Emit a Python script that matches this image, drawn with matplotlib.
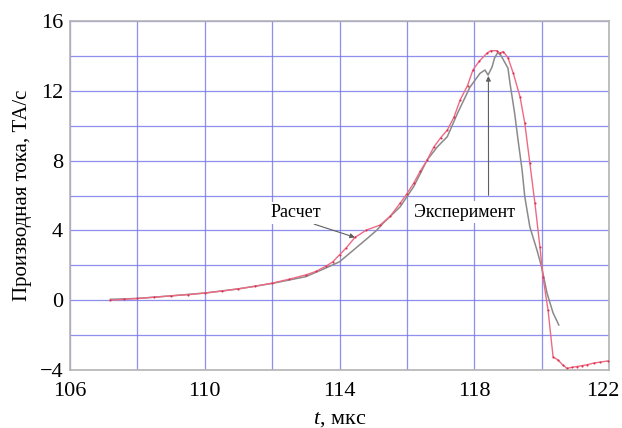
import matplotlib
matplotlib.use("Agg")
import matplotlib.pyplot as plt
from matplotlib.ticker import MultipleLocator
from matplotlib.transforms import ScaledTranslation

# Calculation (red, dotted markers)
calc_t = [107.2, 107.6, 108.0, 108.5, 109.0, 109.5, 110.0, 110.5, 111.0, 111.5, 112.0,
          112.5, 113.0, 113.3, 113.6, 113.8, 114.0, 114.2, 114.46, 114.8, 115.2, 115.5,
          115.8, 116.0, 116.2, 116.4, 116.6, 116.8, 117.0, 117.2, 117.4, 117.58, 117.8,
          117.96, 118.15, 118.38, 118.5, 118.67, 118.76, 118.86, 119.0, 119.16, 119.36,
          119.5, 119.65, 119.8, 119.95, 120.04, 120.19, 120.34, 120.49, 120.62, 120.75,
          120.9, 121.05, 121.2, 121.35, 121.55, 121.73, 121.97]
calc_v = [0.0, 0.05, 0.1, 0.17, 0.25, 0.32, 0.41, 0.52, 0.65, 0.8, 0.98,
          1.2, 1.45, 1.65, 1.95, 2.2, 2.6, 3.0, 3.6, 4.02, 4.3, 4.8,
          5.56, 6.1, 6.7, 7.4, 8.03, 8.78, 9.3, 9.75, 10.5, 11.47, 12.3,
          13.19, 13.7, 14.16, 14.3, 14.3, 14.15, 14.25, 13.9, 13.0, 11.65,
          10.15, 7.86, 5.57, 3.05, 1.33, -0.56, -3.25, -3.43, -3.7, -3.9,
          -3.85, -3.8, -3.75, -3.7, -3.6, -3.55, -3.48]

# Experiment (grey line)
exp_t = [107.2, 108.0, 109.0, 110.0, 111.0, 112.0, 113.0, 113.6, 114.0, 114.4, 114.8,
         115.1, 115.3, 115.8, 116.2, 116.6, 116.9, 117.2, 117.5, 117.87, 118.17,
         118.32, 118.41, 118.53, 118.6, 118.7, 118.8, 119.0, 119.06, 119.2, 119.3,
         119.42, 119.5, 119.65, 119.86, 120.0, 120.16, 120.34, 120.51]
exp_v = [0.05, 0.1, 0.25, 0.41, 0.65, 0.96, 1.35, 1.85, 2.2, 2.85, 3.5,
         4.0, 4.42, 5.35, 6.5, 8.03, 8.78, 9.37, 10.7, 12.2, 13.0,
         13.19, 12.9, 13.37, 13.87, 14.2, 14.0, 13.3, 12.45, 10.7, 9.18,
         7.46, 5.93, 4.2, 2.88, 1.9, 0.41, -0.73, -1.42]

x_major = [106, 110, 114, 118, 122]
y_major = [-4, 0, 4, 8, 12, 16]

plt.rcParams['font.family'] = ['Liberation Serif', 'DejaVu Serif']
plt.rcParams['mathtext.fontset'] = 'custom'
plt.rcParams['mathtext.it'] = 'Liberation Serif:italic'
plt.rcParams['mathtext.rm'] = 'Liberation Serif'

fig = plt.figure(figsize=(6.22, 4.28), dpi=100)
ax = fig.add_axes([70/622, 1-370/428, (609-70)/622, (370-21)/428])

ax.set_xlim(106, 122)
ax.set_ylim(-4, 16)
ax.set_xticks(x_major)
ax.set_yticks(y_major)
ax.xaxis.set_minor_locator(MultipleLocator(2))
ax.yaxis.set_minor_locator(MultipleLocator(2))
ax.grid(True, which='both', color='#7373e8', linewidth=0.9, alpha=0.8)
ax.set_axisbelow(True)
ax.tick_params(which='both', length=0, labelsize=16)
ax.tick_params(axis='y', pad=5)
ax.tick_params(axis='x', pad=9)
for s in ax.spines.values():
    s.set_color('#b4b4b4')
    s.set_linewidth(1.2)

# nudge the last x tick label so it stays inside the figure, as in the reference
last = ax.get_xticklabels()[-1]
last.set_transform(last.get_transform() + ScaledTranslation(-6/100, 0, fig.dpi_scale_trans))

ax.plot(exp_t, exp_v, color='#8a8a8a', linewidth=1.1, zorder=3)
ax.plot(calc_t, calc_v, color='#ee6a84', linewidth=1.0, marker='.',
        markersize=3, markerfacecolor='#d83050', markeredgewidth=0, zorder=4)

ax.annotate('Расчет', xy=(114.46, 3.6), xytext=(112.7, 5.0),
            fontsize=13, ha='center', va='center',
            bbox=dict(boxstyle='square,pad=0.15', fc='white', ec='none'),
            arrowprops=dict(arrowstyle='-|>', color='#606060', lw=0.8,
                            mutation_scale=7, shrinkA=0, shrinkB=0,
                            relpos=(0.7, 0.0)), zorder=6)
ax.annotate('Эксперимент', xy=(118.42, 12.85), xytext=(117.72, 5.05),
            fontsize=13, ha='center', va='center',
            bbox=dict(boxstyle='square,pad=0.15', fc='white', ec='none'),
            arrowprops=dict(arrowstyle='-|>', color='#606060', lw=0.8,
                            mutation_scale=7, shrinkA=4, shrinkB=0,
                            relpos=(0.735, 1.0)), zorder=6)

ax.set_xlabel('$t$, мкс', fontsize=16, labelpad=6)
ax.set_ylabel('Производная тока, ТА/с', fontsize=15, labelpad=5)

fig.savefig('out.png', dpi=100)
